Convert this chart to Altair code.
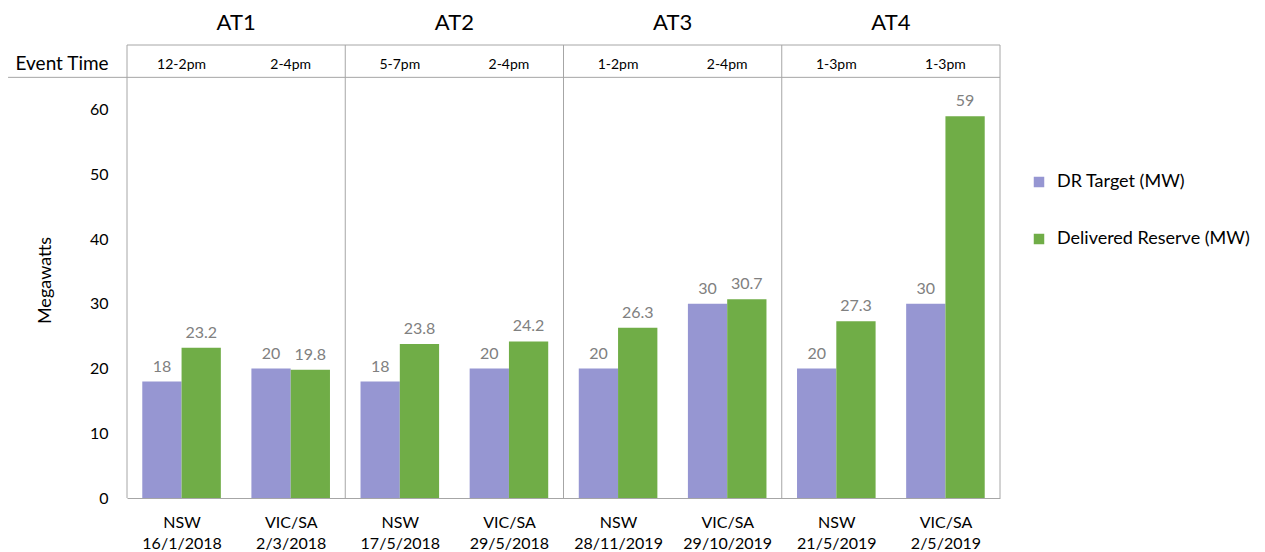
import json
import altair as alt
import pandas as pd

# --- chart values ---------------------------------------------------------
groups = ["AT1", "AT2", "AT3", "AT4"]
regions = ["NSW", "VIC/SA", "NSW", "VIC/SA", "NSW", "VIC/SA", "NSW", "VIC/SA"]
dates = ["16/1/2018", "2/3/2018", "17/5/2018", "29/5/2018",
         "28/11/2019", "29/10/2019", "21/5/2019", "2/5/2019"]
event_times = ["12-2pm", "2-4pm", "5-7pm", "2-4pm", "1-2pm", "2-4pm", "1-3pm", "1-3pm"]
dr_target = [18, 20, 18, 20, 20, 30, 20, 30]
delivered = [23.2, 19.8, 23.8, 24.2, 26.3, 30.7, 27.3, 59]
series = ["DR Target (MW)", "Delivered Reserve (MW)"]
colors = ["#9696d2", "#70ad47"]

FONT = "Lato"
LINE = "#a6a6a6"

# --- tables ---------------------------------------------------------------
rows = []
for i in range(len(regions)):
    rows.append({"idx": i, "series": series[0], "value": dr_target[i]})
    rows.append({"idx": i, "series": series[1], "value": delivered[i]})
bars_df = pd.DataFrame(rows)

events_df = pd.DataFrame({"idx": range(len(event_times)), "label": event_times})
groups_df = pd.DataFrame({"g": range(len(groups)), "label": groups})

n = len(regions)
# vertical separators between event groups, plus header box lines
vlines = pd.DataFrame({"x": [0, 2, 4, 6, 8], "x2": [0, 2, 4, 6, 8],
                       "y": [0] * 5, "y2": [70] * 5})
hlines = pd.DataFrame({"x": [0, -1.09], "x2": [8, 8], "y": [70, 65], "y2": [70, 65]})
lines_df = pd.concat([vlines, hlines], ignore_index=True)

axis_labels = json.dumps([[r, d] for r, d in zip(regions, dates)])

xscale = alt.Scale(domain=[0, n], nice=False, zero=False)
yscale = alt.Scale(domain=[0, 70], nice=False)

bars = (
    alt.Chart(bars_df)
    .transform_calculate(
        x0=f"datum.idx + (datum.series == '{series[0]}' ? 0.14 : 0.5)",
        x1=f"datum.idx + (datum.series == '{series[0]}' ? 0.5 : 0.86)",
        xm=f"datum.idx + (datum.series == '{series[0]}' ? 0.32 : 0.68)",
    )
)

bar_marks = bars.mark_bar().encode(
    x=alt.X(
        "x0:Q",
        scale=xscale,
        axis=alt.Axis(
            values=[i + 0.5 for i in range(n)],
            labelExpr=f"{axis_labels}[floor(datum.value)]",
            title=None,
            grid=False,
            ticks=False,
            domain=True,
            domainColor=LINE,
            domainWidth=1,
            labelFont=FONT,
            labelFontSize=16,
            labelColor="#000000",
            labelLineHeight=21,
            labelPadding=16,
            labelBaseline="top",
        ),
    ),
    x2="x1:Q",
    y=alt.Y(
        "value:Q",
        scale=yscale,
        axis=alt.Axis(
            values=[0, 10, 20, 30, 40, 50, 60],
            title="Megawatts",
            titleFont=FONT,
            titleFontSize=18,
            titleFontWeight="normal",
            titleColor="#000000",
            titleX=-82,
            titleY=235,
            titleAlign="center",
            titleBaseline="middle",
            grid=False,
            ticks=False,
            domain=False,
            labelFont=FONT,
            labelFontSize=16,
            labelColor="#000000",
            labelPadding=19,
        ),
    ),
    y2=alt.datum(0),
    color=alt.Color(
        "series:N",
        scale=alt.Scale(domain=series, range=colors),
        sort=series,
        legend=alt.Legend(
            title=None,
            orient="none",
            legendX=903,
            legendY=128,
            symbolType="square",
            symbolSize=110,
            symbolStrokeWidth=0,
            labelFont=FONT,
            labelFontSize=18,
            labelColor="#000000",
            labelOffset=9,
            labelLimit=400,
            rowPadding=39,
        ),
    ),
)

value_labels = bars.mark_text(
    font=FONT, fontSize=16, color="#808080", baseline="bottom", dy=-7
).encode(
    x=alt.X("xm:Q", scale=xscale),
    y=alt.Y("value:Q", scale=yscale),
    text=alt.Text("value:Q", format="~g"),
)

rules = alt.Chart(lines_df).mark_rule(color=LINE, strokeWidth=1).encode(
    x=alt.X("x:Q", scale=xscale), x2="x2:Q",
    y=alt.Y("y:Q", scale=yscale), y2="y2:Q",
)

event_text = (
    alt.Chart(events_df)
    .transform_calculate(xc="datum.idx + 0.5", yc="66.95")
    .mark_text(font=FONT, fontSize=14, color="#000000", baseline="middle")
    .encode(x=alt.X("xc:Q", scale=xscale), y=alt.Y("yc:Q", scale=yscale), text="label:N")
)

event_head = (
    alt.Chart(pd.DataFrame({"label": ["Event Time"]}))
    .transform_calculate(xc="-0.595", yc="67.1")
    .mark_text(font=FONT, fontSize=19, color="#000000", baseline="middle")
    .encode(x=alt.X("xc:Q", scale=xscale), y=alt.Y("yc:Q", scale=yscale), text="label:N")
)

group_titles = (
    alt.Chart(groups_df)
    .transform_calculate(xc="datum.g * 2 + 1", yc="73.4")
    .mark_text(font=FONT, fontSize=22, color="#000000", baseline="middle")
    .encode(x=alt.X("xc:Q", scale=xscale), y=alt.Y("yc:Q", scale=yscale), text="label:N")
)

chart = (
    alt.layer(bar_marks, value_labels, rules, event_text, event_head, group_titles)
    .properties(
        width=873,
        height=453,
        autosize=alt.AutoSizeParams(type="none"),
        padding={"left": 127, "top": 45, "right": 265, "bottom": 54},
        background="#ffffff",
    )
    .configure_view(stroke=None)
)

chart.save("out.html", embed_options={"renderer": "svg", "actions": False})
